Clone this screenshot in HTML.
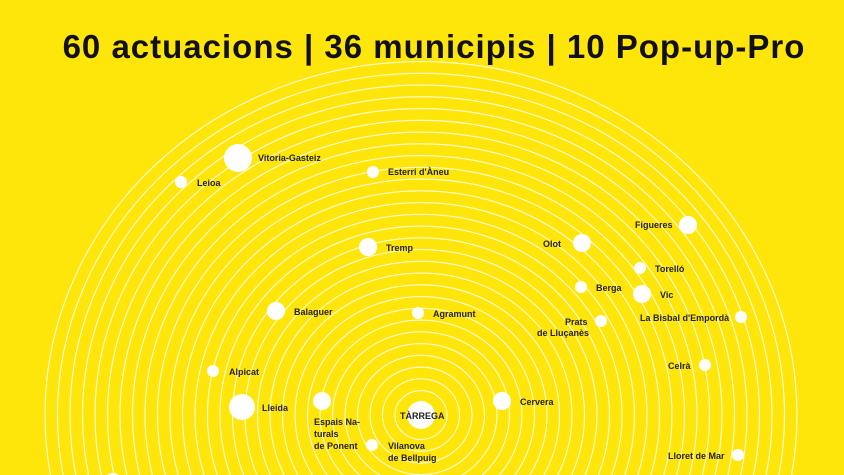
<!DOCTYPE html>
<html><head><style>
body{margin:0;width:844px;height:475px;overflow:hidden;background:#FFE60A;font-family:"Liberation Sans",sans-serif}
</style></head><body>
<svg width="844" height="475" style="position:absolute;left:0;top:0">
<g fill="none" stroke="#fff" stroke-opacity="0.85" stroke-width="1.1" id="r"></g>
<g fill="#fff">
<circle cx="238" cy="158" r="14"/><circle cx="181" cy="182" r="6"/><circle cx="373" cy="172" r="6"/>
<circle cx="368" cy="247" r="9"/><circle cx="582" cy="243" r="9"/><circle cx="688" cy="225" r="9"/>
<circle cx="640" cy="268" r="6"/><circle cx="581" cy="287" r="6"/><circle cx="642" cy="294" r="9"/>
<circle cx="601" cy="321" r="6"/><circle cx="741" cy="317" r="6"/><circle cx="276" cy="311" r="9"/>
<circle cx="418" cy="313" r="6"/><circle cx="213" cy="371" r="6"/><circle cx="705" cy="365" r="6"/>
<circle cx="242" cy="407" r="13"/><circle cx="322" cy="401" r="9"/><circle cx="421" cy="415" r="14"/>
<circle cx="502" cy="401" r="9"/><circle cx="372" cy="445" r="6"/><circle cx="738" cy="455" r="6"/>
<circle cx="113" cy="482" r="9"/>
</g>
<g font-size="9" font-weight="bold" fill="#222">
<text x="258" y="161">Vitoria-Gasteiz</text><text x="197" y="186">Leioa</text><text x="388" y="175">Esterri d'Àneu</text>
<text x="386" y="251">Tremp</text><text x="543" y="247">Olot</text><text x="635" y="228">Figueres</text>
<text x="655" y="272">Torelló</text><text x="596" y="291">Berga</text><text x="660" y="298">Vic</text>
<text x="565" y="325">Prats</text><text x="537" y="336">de Lluçanès</text><text x="640" y="321">La Bisbal d'Empordà</text>
<text x="294" y="315">Balaguer</text><text x="433" y="317">Agramunt</text><text x="229" y="375">Alpicat</text>
<text x="668" y="369">Celrà</text><text x="262" y="411">Lleida</text>
<text x="314" y="425">Espais Na-</text><text x="314" y="437">turals</text><text x="314" y="449">de Ponent</text>
<text x="400" y="419">TÀRREGA</text><text x="520" y="405">Cervera</text>
<text x="388" y="449">Vilanova</text><text x="388" y="461">de Bellpuig</text>
<text x="668" y="459">Lloret de Mar</text>
</g>
<text x="434" y="58" text-anchor="middle" font-size="33" letter-spacing="1" font-weight="bold" fill="#111">60 actuacions | 36 municipis | 10 Pop-up-Pro</text>
</svg>
<script>
var g=document.getElementById('r'),s='';
for(var r=376;r>20;r-=12.5)s+='<ellipse cx="421" cy="415" rx="'+r+'" ry="'+(r*0.94)+'"/>';
g.innerHTML=s;
</script>
</body></html>
